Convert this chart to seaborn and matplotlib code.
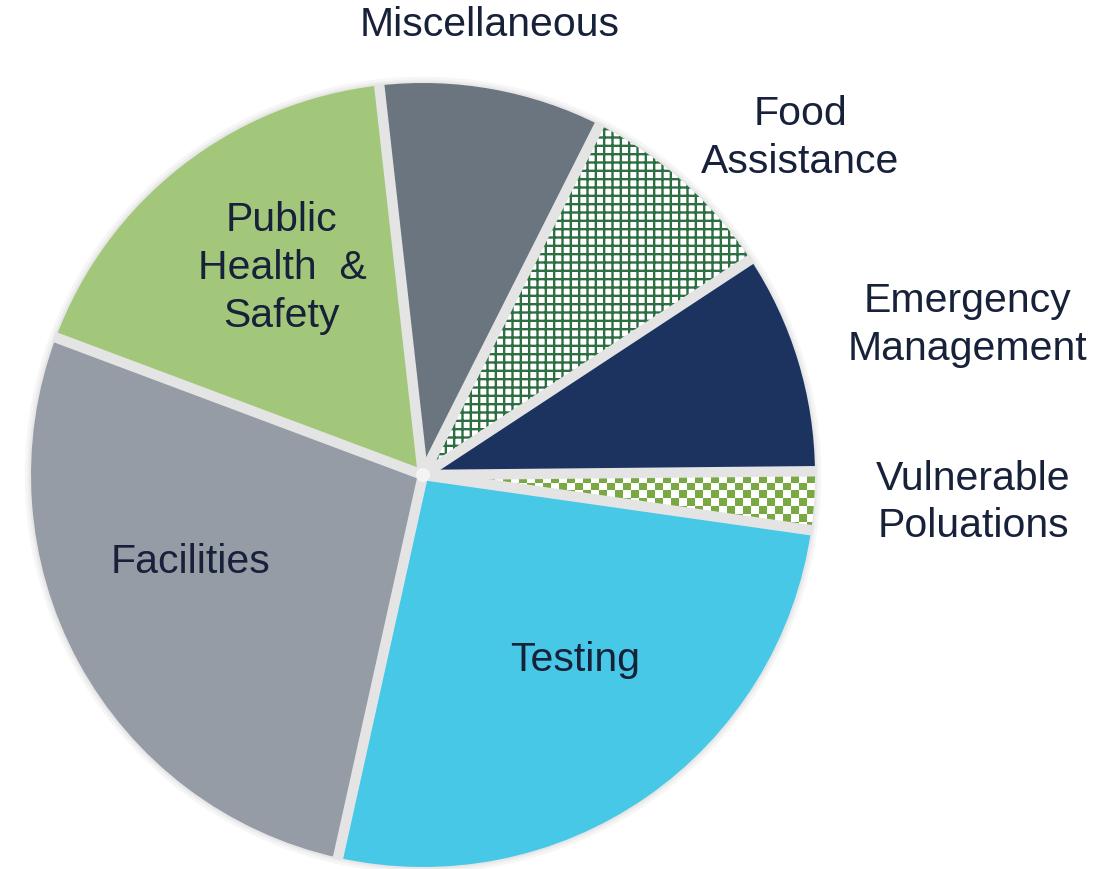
import numpy as np
import matplotlib
matplotlib.use("Agg")
import matplotlib.pyplot as plt
from matplotlib.colors import ListedColormap
from matplotlib.patches import Circle
import seaborn as sns

# ---- data (counter-clockwise from the right) ----
categories = ["Vulnerable Poluations", "Emergency Management", "Food Assistance",
              "Miscellaneous", "Public Health & Safety", "Facilities", "Testing"]
values = [2.4, 9.1, 8.3, 9.2, 17.5, 27.2, 26.2]
label_texts = ["Vulnerable\nPoluations", "Emergency\nManagement", "Food\nAssistance",
               "Miscellaneous", "Public\nHealth  &\nSafety", "Facilities", "Testing"]
slice_colors = ["#ffffff", "#1c3360", "#ffffff", "#6b7580", "#a3c77a", "#959ca6", "#46c8e6"]
label_pos = [(1.403, -0.070), (1.390, 0.383), (0.962, 0.860), (0.171, 1.148),
             (-0.360, 0.528), (-0.594, -0.222), (0.388, -0.472)]
start_angle = -8.1

sns.set_theme(style="white")
plt.rcParams["font.family"] = ["Liberation Sans", "DejaVu Sans"]
plt.rcParams["hatch.linewidth"] = 1.7

W, H = 1120, 869
fig = plt.figure(figsize=(W / 100, H / 100), dpi=100)
cx, cy, R = 423, 869 - 475, 392
L = 1.1
ax = fig.add_axes([(cx - R * L) / W, (cy - R * L) / H, 2 * R * L / W, 2 * R * L / H])

# soft outer shadow
for lw, col in [(9, "#f6f6f6"), (5, "#eeeeee"), (2.5, "#e6e6e6")]:
    ax.add_patch(Circle((0, 0), 1.0, facecolor="none", edgecolor=col, linewidth=lw, zorder=0.5))

wedges, _ = ax.pie(values, colors=slice_colors, startangle=start_angle, counterclock=True,
                   radius=1.0, wedgeprops=dict(linewidth=0))

# grid hatch for Food Assistance
food = wedges[2]
food.set_hatch("++")
food.set_edgecolor("#2d6e43")
food.set_linewidth(0)

# checkerboard for Vulnerable Populations, clipped to its wedge
n = 108
ii, jj = np.indices((n, n))
checker = ((ii + jj) % 2).astype(float)
im = ax.imshow(checker, extent=(-L, L, -L, L), cmap=ListedColormap(["#ffffff", "#7aa843"]),
               interpolation="nearest", origin="lower", zorder=1.5)
im.set_clip_path(wedges[0])

# light gray radial separators between slices
bounds = start_angle + np.cumsum([0] + values[:-1]) / np.sum(values) * 360.0
for a in np.deg2rad(bounds):
    ax.plot([0, 1.004 * np.cos(a)], [0, 1.004 * np.sin(a)], color="#e4e4e4",
            linewidth=7.5, solid_capstyle="butt", zorder=3)
ax.add_patch(Circle((0, 0), 0.018, facecolor="#f4f4f4", edgecolor="none", zorder=3.5))

for txt, (x, y) in zip(label_texts, label_pos):
    ax.text(x, y, txt, ha="center", va="center", fontsize=29.5, color="#17213a",
            linespacing=1.32, zorder=5)

ax.set_xlim(-L, L)
ax.set_ylim(-L, L)
ax.set_aspect("auto")
ax.axis("off")

fig.savefig("out.png", dpi=100, facecolor="white")
